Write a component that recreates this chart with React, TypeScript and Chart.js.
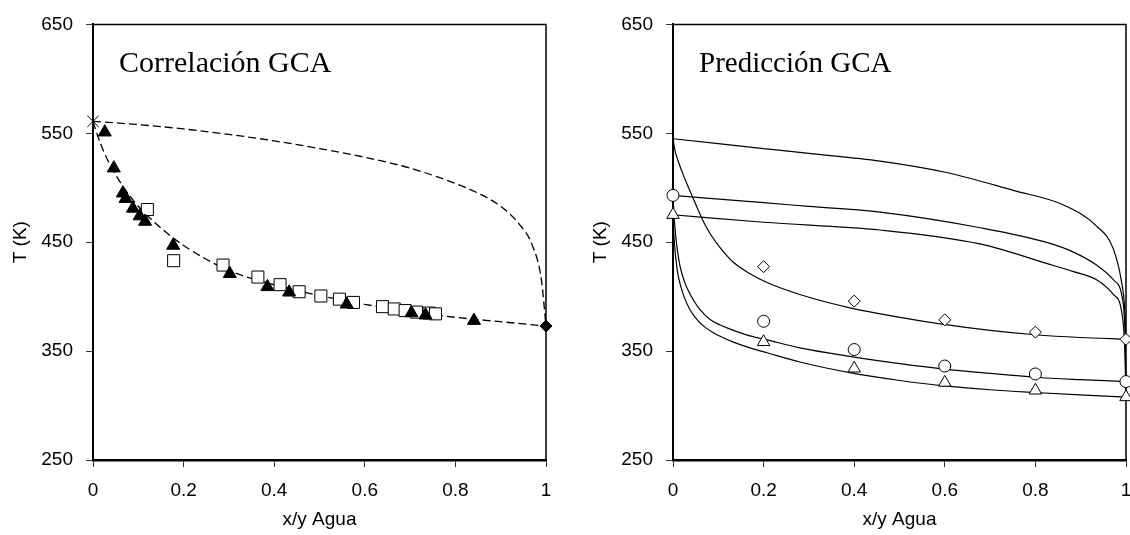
import React, { useEffect, useRef } from 'react';
import { Chart, registerables } from 'chart.js';

Chart.register(...registerables);

// ---------- shared axes ----------
const xTickValues = [0, 0.2, 0.4, 0.6, 0.8, 1];
const xTickLabels = ['0', '0.2', '0.4', '0.6', '0.8', '1'];
const yTickValues = [250, 350, 450, 550, 650];
const yTickLabels = ['250', '350', '450', '550', '650'];

// ---------- left panel: Correlación GCA ----------
const triX = [0.026, 0.046, 0.066, 0.072, 0.088, 0.103, 0.115, 0.177, 0.302, 0.385, 0.433, 0.56, 0.703, 0.734, 0.841];
const triT = [551, 518, 495, 490, 481, 474, 469, 447, 421, 409, 404, 393, 385, 383, 378];

const sqX = [0.12, 0.178, 0.287, 0.364, 0.413, 0.455, 0.503, 0.544, 0.575, 0.639, 0.665, 0.689, 0.714, 0.742, 0.756];
const sqT = [480, 433, 429, 418, 411, 404.5, 400.6, 397.7, 394.7, 390.8, 388.7, 387.2, 385.8, 384.9, 384.2];

const starX = [0];
const starT = [561];
const diamondX = [1];
const diamondT = [373];

const dewX = [0, 0.1, 0.2, 0.3, 0.4, 0.5, 0.6, 0.7, 0.8, 0.85, 0.9, 0.94, 0.97, 0.99, 1.0];
const dewT = [561, 558, 554, 549, 543, 536, 528, 518, 504, 495, 483, 467, 447, 415, 373];

const bubX = [0, 0.01, 0.025, 0.05, 0.075, 0.1, 0.15, 0.2, 0.3, 0.4, 0.5, 0.6, 0.7, 0.8, 0.9, 1.0];
const bubT = [561, 548, 532, 512, 496, 483, 463, 447, 424, 411, 401, 393, 386, 381, 377, 373];

// ---------- right panel: Predicción GCA ----------
const expX = [0, 0.2, 0.4, 0.6, 0.8, 1];
const expDiamondT = [545, 427.5, 395.9, 378.7, 367.4, 360.8];
const expCircleT = [493, 377.4, 351.4, 336.3, 329, 322];
const expTriangleT = [475.2, 358.4, 334.1, 321.1, 313.9, 307.8];
// which experimental points are drawn (diamond at x=0 is not drawn)
const expDiamondIdx = [1, 2, 3, 4, 5];
const expCircleIdx = [0, 1, 2, 3, 4, 5];
const expTriangleIdx = [0, 1, 2, 3, 4, 5];

const aLowX = [0, 0.0044, 0.011, 0.0243, 0.0375, 0.053, 0.066, 0.0817, 0.104, 0.132, 0.17, 0.2075, 0.28, 0.393, 0.501, 0.598, 0.7, 0.799, 0.898, 1];
const aLowT = [545, 534, 525, 510, 497, 482, 470, 458, 445, 432, 421, 413, 402, 389.5, 381, 374.5, 369, 365, 362.5, 361];
const aUpX = [0, 0.1, 0.2, 0.3, 0.457, 0.604, 0.751, 0.862, 0.935, 0.972, 0.99, 0.997, 1];
const aUpT = [545, 540.5, 536, 531.5, 524.5, 514, 497.6, 484.2, 464.8, 443.9, 414, 390, 361];

const bLowX = [0, 0.0022, 0.0055, 0.0099, 0.0155, 0.0243, 0.0331, 0.0464, 0.0596, 0.0817, 0.104, 0.132, 0.17, 0.2075, 0.28, 0.393, 0.501, 0.598, 0.7, 0.799, 0.898, 1];
const bLowT = [493, 475, 458, 442, 428, 415, 406, 396, 388, 379, 374, 369.3, 364, 360.3, 353, 345, 338.5, 333.5, 329.5, 326, 323.8, 322];
const bUpX = [0, 0.2, 0.3, 0.457, 0.678, 0.825, 0.884, 0.935, 0.972, 0.994, 0.998, 1];
const bUpT = [493, 486.3, 482.9, 477.6, 463.3, 449.8, 440.9, 429, 415.6, 393.2, 365, 322];

const cLowX = [0, 0.0022, 0.0055, 0.0099, 0.0155, 0.0243, 0.0375, 0.053, 0.0706, 0.0927, 0.132, 0.17, 0.2075, 0.28, 0.393, 0.501, 0.598, 0.7, 0.799, 0.898, 1];
const cLowT = [475, 455, 438, 423, 412, 400, 388, 379, 372, 366, 358.5, 353, 348.5, 340, 330, 323, 318, 314.5, 312, 309.8, 307.8];
const cUpX = [0, 0.2, 0.457, 0.678, 0.825, 0.884, 0.935, 0.972, 0.99, 0.997, 1];
const cUpT = [475.2, 468.3, 461.2, 448.4, 430.5, 423, 415.6, 402.1, 387.2, 355, 307.8];

const leftTitle = 'Correlación GCA';
const rightTitle = 'Predicción GCA';
const xAxisTitle = 'x/y Agua';
const yAxisTitle = 'T (K)';

const SANS = '"Liberation Sans", Arial, sans-serif';
const SERIF = '"Liberation Serif", "Times New Roman", serif';

const pts = (xs: number[], ys: number[]) => xs.map((x, i) => ({ x, y: ys[i] }));
const pick = (xs: number[], ys: number[], idx: number[]) => idx.map((i) => ({ x: xs[i], y: ys[i] }));

const labelFor = (values: number[], labels: string[]) => (v: any) => {
  const i = values.findIndex((t) => Math.abs(t - Number(v)) < 1e-6);
  return i >= 0 ? labels[i] : '';
};

const panelPlugin = (text: string, size: number) => ({
  id: 'panelDecor',
  beforeDatasetsDraw(chart: any) {
    const { ctx, chartArea } = chart;
    ctx.save();
    ctx.strokeStyle = '#000';
    ctx.lineWidth = 1.5;
    ctx.beginPath();
    ctx.moveTo(chartArea.left, chartArea.top);
    ctx.lineTo(chartArea.right, chartArea.top);
    ctx.lineTo(chartArea.right, chartArea.bottom);
    ctx.stroke();
    ctx.restore();
  },
  afterDraw(chart: any) {
    const { ctx, chartArea } = chart;
    ctx.save();
    ctx.font = size + 'px ' + SERIF;
    ctx.fillStyle = '#000';
    ctx.textBaseline = 'alphabetic';
    ctx.textAlign = 'left';
    ctx.fillText(text, chartArea.left + 26, chartArea.top + 48);
    ctx.restore();
  },
});

const makeOptions = (rightPad: number) => ({
  responsive: false,
  animation: false as const,
  maintainAspectRatio: false,
  layout: { padding: { top: 13, right: rightPad, bottom: 0, left: 0 } },
  plugins: { legend: { display: false }, tooltip: { enabled: false } },
  scales: {
    x: {
      type: 'linear' as const,
      min: 0,
      max: 1,
      afterFit: (s: any) => {
        s.height = 75;
      },
      afterBuildTicks: (s: any) => {
        s.ticks = xTickValues.map((v) => ({ value: v }));
      },
      ticks: {
        callback: labelFor(xTickValues, xTickLabels),
        font: { family: SANS, size: 19 },
        color: '#000',
        padding: 12.6,
        maxRotation: 0,
        autoSkip: false,
      },
      grid: { drawOnChartArea: false, drawTicks: true, tickLength: 7, color: '#333', lineWidth: 1 },
      border: { display: true, color: '#000', width: 2.5 },
      title: {
        display: true,
        text: xAxisTitle,
        font: { family: SANS, size: 19 },
        color: '#000',
        padding: { top: 0, bottom: 3.6 },
      },
    },
    y: {
      type: 'linear' as const,
      min: 250,
      max: 650,
      afterFit: (s: any) => {
        s.width = 93;
      },
      afterBuildTicks: (s: any) => {
        s.ticks = yTickValues.map((v) => ({ value: v }));
      },
      ticks: {
        callback: labelFor(yTickValues, yTickLabels),
        font: { family: SANS, size: 19 },
        color: '#000',
        padding: 13,
        autoSkip: false,
      },
      grid: { drawOnChartArea: false, drawTicks: true, tickLength: 7, color: '#333', lineWidth: 1 },
      border: { display: true, color: '#000', width: 2 },
      title: {
        display: true,
        text: yAxisTitle,
        font: { family: SANS, size: 19 },
        color: '#000',
        padding: { top: 9.6, bottom: 0 },
      },
    },
  },
});

const lineDs = (data: any[], dashed: boolean) => ({
  data,
  showLine: true,
  pointRadius: 0,
  borderColor: '#000',
  borderWidth: dashed ? 1.3 : 1.2,
  borderDash: dashed ? [8, 4] : [],
  cubicInterpolationMode: 'monotone' as const,
  fill: false,
  clip: false as any,
});

const markerDs = (data: any[], style: string, radius: number, fill: string) => ({
  data,
  showLine: false,
  pointStyle: style,
  pointRadius: radius,
  pointBackgroundColor: fill,
  pointBorderColor: '#000',
  pointBorderWidth: 1,
  clip: false as any,
});

function Panel({ left, width, title, titleSize, datasets, rightPad }: any) {
  const ref = useRef<HTMLCanvasElement>(null);
  useEffect(() => {
    if (!ref.current) return;
    const chart = new Chart(ref.current, {
      type: 'scatter',
      data: { datasets },
      options: makeOptions(rightPad) as any,
      plugins: [panelPlugin(title, titleSize)],
    });
    return () => chart.destroy();
  }, []);
  return (
    <div style={{ position: 'absolute', left, top: 0, width, height: 535 }}>
      <canvas ref={ref} width={width} height={535} style={{ width, height: 535, display: 'block' }} />
    </div>
  );
}

export default function App() {
  const leftDatasets = [
    markerDs(pts(diamondX, diamondT), 'rectRot', 6, '#000'),
    markerDs(pts(starX, starT), 'crossRot', 8, '#000'),
    markerDs(pts(triX, triT), 'triangle', 7.5, '#000'),
    markerDs(pts(sqX, sqT), 'rect', 8.5, '#fff'),
    lineDs(pts(dewX, dewT), true),
    lineDs(pts(bubX, bubT), true),
  ];
  const rightDatasets = [
    markerDs(pick(expX, expDiamondT, expDiamondIdx), 'rectRot', 6, '#fff'),
    markerDs(pick(expX, expCircleT, expCircleIdx), 'circle', 6, '#fff'),
    markerDs(pick(expX, expTriangleT, expTriangleIdx), 'triangle', 7.2, '#fff'),
    lineDs(pts(aLowX, aLowT), false),
    lineDs(pts(aUpX, aUpT), false),
    lineDs(pts(bLowX, bLowT), false),
    lineDs(pts(bUpX, bUpT), false),
    lineDs(pts(cLowX, cLowT), false),
    lineDs(pts(cUpX, cUpT), false),
  ];
  return (
    <div style={{ position: 'absolute', left: 0, top: 0, width: 1130, height: 535, overflow: 'hidden', background: '#fff' }}>
      <Panel left={0} width={565} title={leftTitle} titleSize={30} datasets={leftDatasets} rightPad={19} />
      <Panel left={580} width={566} title={rightTitle} titleSize={29} datasets={rightDatasets} rightPad={20} />
    </div>
  );
}
